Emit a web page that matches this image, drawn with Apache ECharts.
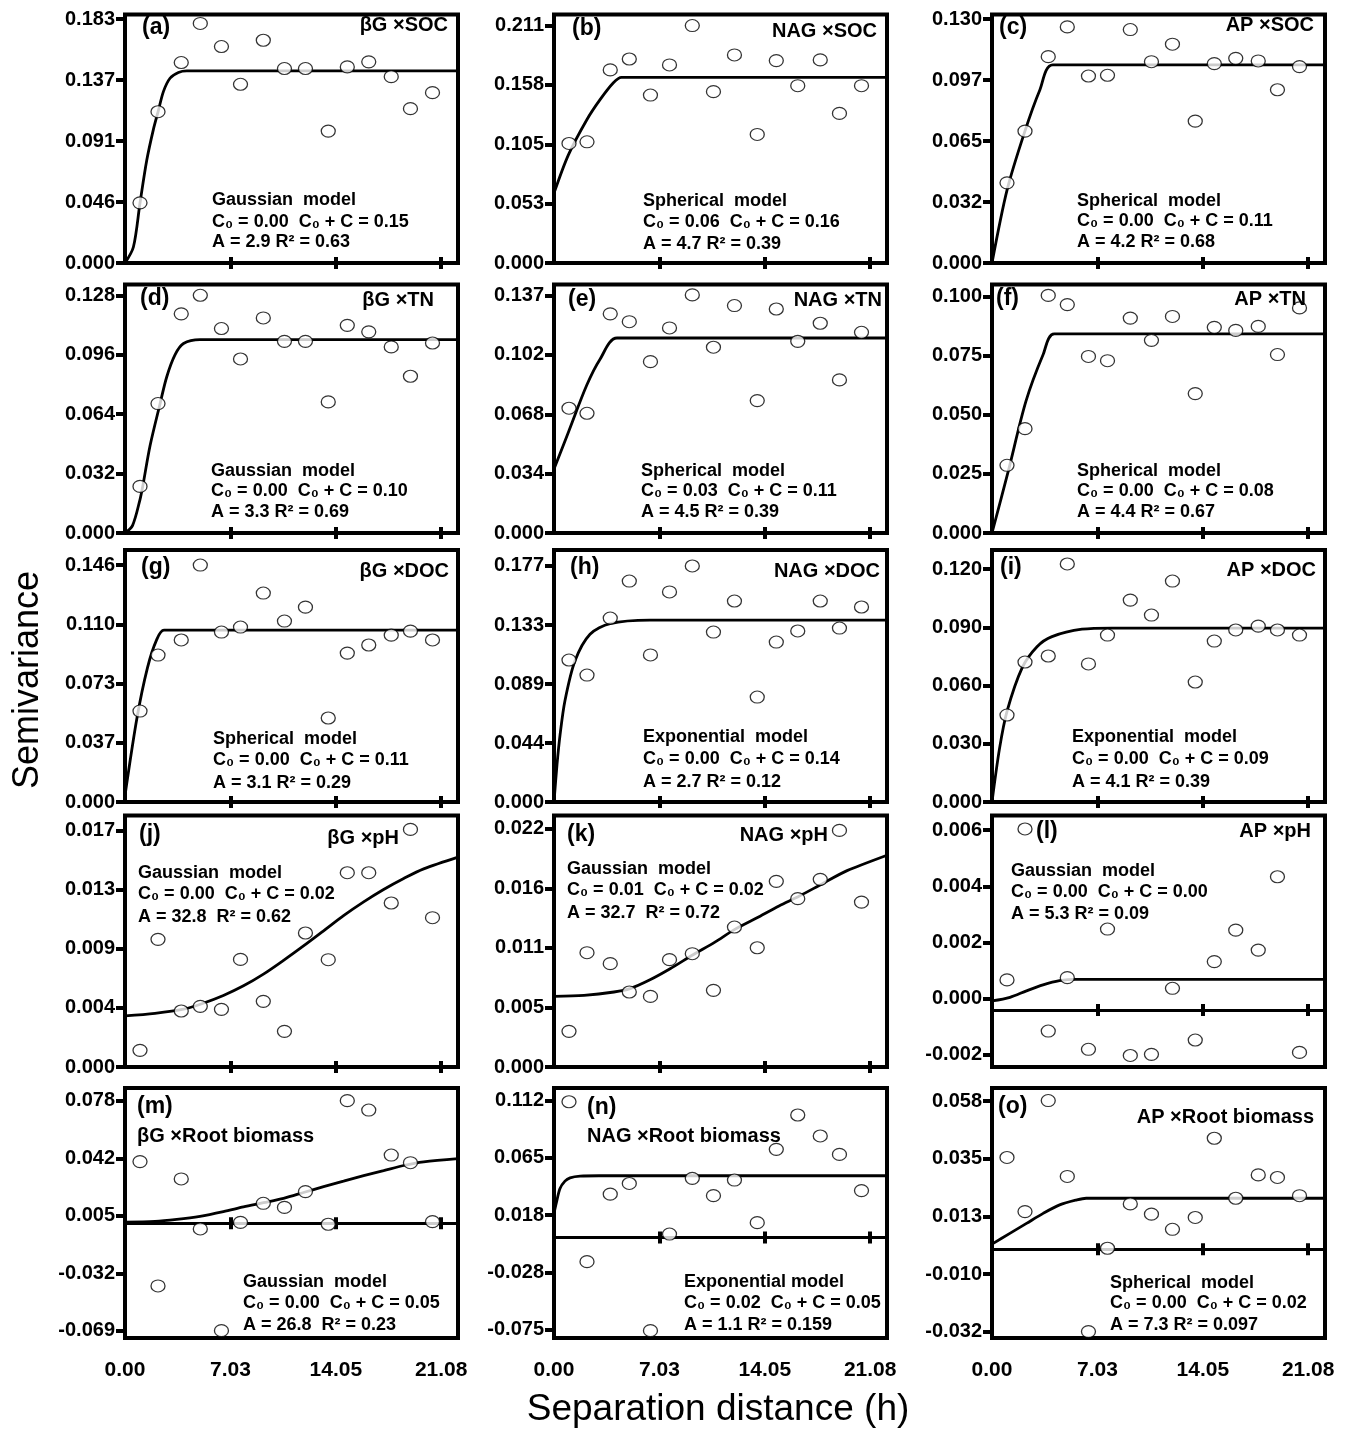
<!DOCTYPE html>
<html><head><meta charset="utf-8">
<script src="https://cdn.jsdelivr.net/npm/echarts@6/dist/echarts.min.js"></script>
<style>html,body{margin:0;padding:0;background:#fff}#c{width:1350px;height:1430px}</style>
</head><body><div id="c"></div>
<script>
// ---------------- DATA ----------------
const lags = [1.0, 2.2, 3.75, 5.02, 6.43, 7.7, 9.22, 10.63, 12.03, 13.55, 14.82, 16.25, 17.75, 19.03, 20.5];
const xTickValues = [0, 7.0267, 14.0533, 21.08];
const xTickLabels = ['0.00', '7.03', '14.05', '21.08'];

const semA = [0.0451, 0.1134, 0.1503, 0.1796, 0.1623, 0.1340, 0.1670, 0.1458, 0.1458, 0.0989, 0.1470, 0.1508, 0.1397, 0.1157, 0.1277];
const semB = [0.1061, 0.1076, 0.1714, 0.1811, 0.1491, 0.1758, 0.2108, 0.1521, 0.1847, 0.1141, 0.1797, 0.1574, 0.1803, 0.1328, 0.1574];
const semC = [0.0426, 0.0701, 0.1097, 0.1255, 0.0994, 0.0998, 0.1241, 0.1070, 0.1163, 0.0754, 0.1060, 0.1088, 0.1074, 0.0921, 0.1044];
const semD = [0.0251, 0.0697, 0.1180, 0.1280, 0.1101, 0.0937, 0.1158, 0.1032, 0.1032, 0.0706, 0.1118, 0.1083, 0.1002, 0.0844, 0.1023];
const semE = [0.0718, 0.0689, 0.1261, 0.1216, 0.0986, 0.1180, 0.1370, 0.1069, 0.1309, 0.0762, 0.1289, 0.1103, 0.1207, 0.0881, 0.1155];
const semF = [0.0286, 0.0441, 0.1004, 0.0965, 0.0746, 0.0728, 0.0908, 0.0814, 0.0915, 0.0589, 0.0869, 0.0856, 0.0873, 0.0754, 0.0951];
const semG = [0.0562, 0.0908, 0.1001, 0.1464, 0.1050, 0.1081, 0.1291, 0.1118, 0.1204, 0.0519, 0.0920, 0.0970, 0.1031, 0.1056, 0.1001];
const semH = [0.1066, 0.0953, 0.1381, 0.1659, 0.1104, 0.1577, 0.1772, 0.1276, 0.1509, 0.0788, 0.1201, 0.1284, 0.1509, 0.1306, 0.1464];
const semI = [0.0448, 0.0721, 0.0752, 0.1226, 0.0711, 0.0860, 0.1040, 0.0963, 0.1138, 0.0618, 0.0829, 0.0886, 0.0906, 0.0886, 0.0860];
const semJ = [0.00121, 0.00928, 0.00407, 0.00441, 0.00419, 0.00782, 0.00477, 0.00259, 0.00974, 0.00780, 0.01412, 0.01412, 0.01192, 0.01727, 0.01085];
const semK = [0.00323, 0.01036, 0.00937, 0.00680, 0.00640, 0.00973, 0.01027, 0.00695, 0.01269, 0.01081, 0.01683, 0.01526, 0.01701, 0.02145, 0.01495];
const semL = [0.00107, 0.00644, -0.00075, 0.00115, -0.00140, 0.00288, -0.00162, -0.00158, 0.00077, -0.00107, 0.00172, 0.00284, 0.00213, 0.00474, -0.00151];
const semM = [0.0395, -0.0401, 0.0284, -0.0036, -0.0687, 0.0006, 0.0128, 0.0102, 0.0203, -0.0006, 0.0785, 0.0725, 0.0437, 0.0388, 0.0011];
const semN = [0.1107, -0.0196, 0.0354, 0.0441, -0.0758, 0.0029, 0.0483, 0.0342, 0.0469, 0.0122, 0.0719, 0.0999, 0.0828, 0.0678, 0.0383];
const semO = [0.0358, 0.0147, 0.0580, 0.0284, -0.0321, 0.0004, 0.0177, 0.0137, 0.0078, 0.0124, 0.0433, 0.0199, 0.0290, 0.0280, 0.0209];

// fitted model curves: [distance, semivariance]
const curveA = [[0,0],[0.56,0.012],[1.0,0.045],[1.45,0.077],[1.89,0.100],[2.22,0.114],[2.56,0.1285],[3.0,0.1385],[3.56,0.1428],[4.12,0.144],[22.2,0.144]];
const curveB = [[0,0.062],[0.96,0.096],[2.18,0.127],[3.07,0.145],[3.96,0.160],[4.5,0.1648],[22.2,0.1648]];
const curveC = [[0,0],[1.01,0.039],[2.19,0.070],[3.19,0.092],[4.05,0.1053],[22.2,0.1053]];
const curveD = [[0,0],[0.5,0.004],[1.0,0.018],[1.18,0.025],[1.67,0.047],[2.34,0.0697],[2.78,0.084],[3.34,0.096],[3.9,0.102],[5.0,0.1041],[22.2,0.1041]];
const curveE = [[0,0.0368],[0.96,0.058],[2.18,0.085],[3.07,0.100],[4.2,0.1122],[22.2,0.1122]];
const curveF = [[0,0],[1.08,0.026],[2.26,0.0556],[3.41,0.0754],[4.15,0.0841],[22.2,0.0841]];
const curveG = [[0,0.004],[0.8,0.052],[1.5,0.083],[2.1,0.100],[2.6,0.1062],[22.2,0.1062]];
const curveH = [[0,0],[0.2,0.028],[0.4,0.050],[0.73,0.076],[1.4,0.106],[2.4,0.126],[3.74,0.134],[6.4,0.1366],[22.2,0.1366]];
const curveI = [[0,0],[0.5,0.0275],[1.0,0.0467],[2.0,0.069],[3.0,0.080],[4.0,0.0852],[6.0,0.089],[8.0,0.0896],[22.2,0.0896]];
const curveJ = [[0,0.00371],[2,0.0039],[3.9,0.0042],[5.12,0.0046],[6.56,0.0052],[7.9,0.0059],[9.23,0.00675],[10.57,0.00775],[11.9,0.0088],[13.24,0.0099],[14.57,0.0110],[15.91,0.0120],[17.24,0.0129],[18.58,0.0137],[19.91,0.0144],[22.2,0.01526]];
const curveK = [[0,0.0064],[2,0.0065],[4,0.0068],[5.07,0.0071],[6.4,0.0079],[7.74,0.0089],[9.3,0.0102],[10.7,0.0113],[12.08,0.0125],[13.64,0.0136],[15,0.0146],[16.36,0.0155],[17.87,0.0166],[19.54,0.0178],[22.2,0.0192]];
const curveL = [[0,0.00032],[1.2,0.00045],[2.3,0.00068],[3.4,0.00089],[4.5,0.00104],[5.6,0.00109],[22.2,0.00109]];
const curveM = [[0,0.0008],[2,0.0012],[3.45,0.0025],[5.0,0.0045],[6.56,0.0075],[7.9,0.0105],[9.23,0.0132],[10.57,0.016],[11.9,0.0197],[13.24,0.0235],[14.57,0.027],[15.91,0.0305],[17.24,0.0337],[18.58,0.0370],[19.91,0.0393],[22.2,0.0414]];
const curveN = [[0,0.0198],[0.15,0.028],[0.4,0.040],[0.73,0.046],[1.07,0.0487],[1.74,0.0501],[3,0.0504],[22.2,0.0504]];
const curveO = [[0,0.002],[1.19,0.0062],[2.3,0.0101],[3.41,0.014],[4.51,0.0173],[5.62,0.0192],[6.28,0.0199],[22.2,0.0199]];

// y-axis tick positions and their printed labels
const yTicksA = [0, 0.0457, 0.0914, 0.1371, 0.1828];   const yLabelsA = ['0.000','0.046','0.091','0.137','0.183'];
const yTicksB = [0, 0.0527, 0.1054, 0.1581, 0.2108];   const yLabelsB = ['0.000','0.053','0.105','0.158','0.211'];
const yTicksC = [0, 0.0324, 0.0648, 0.0972, 0.1296];   const yLabelsC = ['0.000','0.032','0.065','0.097','0.130'];
const yTicksD = [0, 0.032, 0.064, 0.096, 0.128];       const yLabelsD = ['0.000','0.032','0.064','0.096','0.128'];
const yTicksE = [0, 0.03415, 0.0683, 0.10245, 0.1366]; const yLabelsE = ['0.000','0.034','0.068','0.102','0.137'];
const yTicksF = [0, 0.025, 0.05, 0.075, 0.1];          const yLabelsF = ['0.000','0.025','0.050','0.075','0.100'];
const yTicksG = [0, 0.0366, 0.0732, 0.1098, 0.1464];   const yLabelsG = ['0.000','0.037','0.073','0.110','0.146'];
const yTicksH = [0, 0.0443, 0.0886, 0.1329, 0.1772];   const yLabelsH = ['0.000','0.044','0.089','0.133','0.177'];
const yTicksI = [0, 0.03, 0.06, 0.09, 0.12];           const yLabelsI = ['0.000','0.030','0.060','0.090','0.120'];
const yTicksJ = [0, 0.0043, 0.0086, 0.0129, 0.0172];   const yLabelsJ = ['0.000','0.004','0.009','0.013','0.017'];
const yTicksK = [0, 0.0054, 0.0108, 0.0162, 0.0216];   const yLabelsK = ['0.000','0.005','0.011','0.016','0.022'];
const yTicksL = [-0.0016, 0.0004, 0.0024, 0.0044, 0.0064]; const yLabelsL = ['-0.002','0.000','0.002','0.004','0.006'];
const yTicksM = [-0.0688, -0.032, 0.0048, 0.0416, 0.0784]; const yLabelsM = ['-0.069','-0.032','0.005','0.042','0.078'];
const yTicksN = [-0.075, -0.0283, 0.0184, 0.0651, 0.1118]; const yLabelsN = ['-0.075','-0.028','0.018','0.065','0.112'];
const yTicksO = [-0.0322, -0.0097, 0.0128, 0.0353, 0.0578]; const yLabelsO = ['-0.032','-0.010','0.013','0.035','0.058'];

const letters = ['(a)','(b)','(c)','(d)','(e)','(f)','(g)','(h)','(i)','(j)','(k)','(l)','(m)','(n)','(o)'];
const titles = ['βG ×SOC','NAG ×SOC','AP ×SOC','βG ×TN','NAG ×TN','AP ×TN','βG ×DOC','NAG ×DOC','AP ×DOC','βG ×pH','NAG ×pH','AP ×pH','βG ×Root biomass','NAG ×Root biomass','AP ×Root biomass'];
const models = [
  ['Gaussian  model','C₀ = 0.00  C₀ + C = 0.15','A = 2.9 R² = 0.63'],
  ['Spherical  model','C₀ = 0.06  C₀ + C = 0.16','A = 4.7 R² = 0.39'],
  ['Spherical  model','C₀ = 0.00  C₀ + C = 0.11','A = 4.2 R² = 0.68'],
  ['Gaussian  model','C₀ = 0.00  C₀ + C = 0.10','A = 3.3 R² = 0.69'],
  ['Spherical  model','C₀ = 0.03  C₀ + C = 0.11','A = 4.5 R² = 0.39'],
  ['Spherical  model','C₀ = 0.00  C₀ + C = 0.08','A = 4.4 R² = 0.67'],
  ['Spherical  model','C₀ = 0.00  C₀ + C = 0.11','A = 3.1 R² = 0.29'],
  ['Exponential  model','C₀ = 0.00  C₀ + C = 0.14','A = 2.7 R² = 0.12'],
  ['Exponential  model','C₀ = 0.00  C₀ + C = 0.09','A = 4.1 R² = 0.39'],
  ['Gaussian  model','C₀ = 0.00  C₀ + C = 0.02','A = 32.8  R² = 0.62'],
  ['Gaussian  model','C₀ = 0.01  C₀ + C = 0.02','A = 32.7  R² = 0.72'],
  ['Gaussian  model','C₀ = 0.00  C₀ + C = 0.00','A = 5.3 R² = 0.09'],
  ['Gaussian  model','C₀ = 0.00  C₀ + C = 0.05','A = 26.8  R² = 0.23'],
  ['Exponential model','C₀ = 0.02  C₀ + C = 0.05','A = 1.1 R² = 0.159'],
  ['Spherical  model','C₀ = 0.00  C₀ + C = 0.02','A = 7.3 R² = 0.097']
];

const sems = [semA, semB, semC, semD, semE, semF, semG, semH, semI, semJ, semK, semL, semM, semN, semO];
const curves = [curveA, curveB, curveC, curveD, curveE, curveF, curveG, curveH, curveI, curveJ, curveK, curveL, curveM, curveN, curveO];
const yTicks = [yTicksA, yTicksB, yTicksC, yTicksD, yTicksE, yTicksF, yTicksG, yTicksH, yTicksI, yTicksJ, yTicksK, yTicksL, yTicksM, yTicksN, yTicksO];
const yLabels = [yLabelsA, yLabelsB, yLabelsC, yLabelsD, yLabelsE, yLabelsF, yLabelsG, yLabelsH, yLabelsI, yLabelsJ, yLabelsK, yLabelsL, yLabelsM, yLabelsN, yLabelsO];

// ---------------- LAYOUT ----------------
const XMAX = 22.2;
const colLeft = [125, 554, 992];
const gridW = 333;
const rowTop = [14.5, 284.5, 550, 815.5, 1088];
const rowH = [248.5, 248.5, 252, 251.5, 250];
const yRange = [
  [0, 0.1863], [0, 0.2206], [0, 0.1321],
  [0, 0.1338], [0, 0.1430], [0, 0.1050],
  [0, 0.1557], [0, 0.1892], [0, 0.1298],
  [0, 0.01828], [0, 0.0228], [-0.00203, 0.00692],
  [-0.0734, 0.0866], [-0.0818, 0.1219], [-0.0346, 0.0629]
];
// text placement (offsets relative to the panel box)
const letterPos = [[17,13],[18,14.5],[7,13],[15,14.5],[14,15.5],[4,14.5],[16,18],[16,18],[8,18],[14,19.5],[13,19.5],[44,16],[12,19],[33,20],[6,19]];
// title: [anchor, offset, dy]  anchor 'r' = from right edge, 'l' = from left edge
const titlePos = [['r',10,10.5],['r',10,17],['r',11,10.5],['r',24,15.5],['r',5,15.5],['r',19,14.5],['r',9,21],['r',7,21],['r',9,20],['r',59,22.5],['r',59,19.5],['r',14,16],['l',12,48],['l',33,48],['r',11,29]];
const modelPos = [
  [87,[185.5,207.5,228]],[89,[187,208,230]],[85,[187,207,228]],
  [86,[187,207,228]],[87,[187,207,228]],[85,[187,207,228]],
  [88,[189,210,233]],[89,[187,209,232]],[80,[187,209,232]],
  [13,[57.5,78.5,101.5]],[13,[53.5,74.5,97.5]],[19,[55.5,77,99]],
  [118,[194,215,237]],[130,[194,215,237]],[118,[195,215,237]]
];

const FONT = '"Liberation Sans", Arial, sans-serif';
const grids = [], xAxes = [], yAxes = [], series = [], graphics = [];

function nearestLabel(ticks, labels, v) {
  let best = 0, bd = Infinity;
  ticks.forEach((t, k) => { const d = Math.abs(t - v); if (d < bd) { bd = d; best = k; } });
  return labels[best];
}

for (let i = 0; i < 15; i++) {
  const r = Math.floor(i / 3), c = i % 3;
  const L = colLeft[c], T = rowTop[r], H = rowH[r];
  grids.push({ left: L, top: T, width: gridW, height: H, show: true, borderColor: '#000', borderWidth: 4, backgroundColor: 'transparent', containLabel: false });
  const tickStyle = { color: '#000', width: 4 };
  xAxes.push({ gridIndex: i, type: 'value', min: 0, max: XMAX, position: 'bottom',
    axisLine: { show: true, onZero: true, onZeroAxisIndex: i, lineStyle: { color: '#000', width: 3 } },
    axisTick: { show: true, customValues: xTickValues.slice(1), length: 6, lineStyle: tickStyle },
    axisLabel: { show: false }, splitLine: { show: false } });
  xAxes.push({ gridIndex: i, type: 'value', min: 0, max: XMAX, position: 'top',
    axisLine: { show: false, onZero: true, onZeroAxisIndex: i },
    axisTick: { show: true, customValues: xTickValues.slice(1), length: 6, lineStyle: tickStyle },
    axisLabel: { show: false }, splitLine: { show: false } });
  const tk = yTicks[i], lb = yLabels[i];
  yAxes.push({ gridIndex: i, type: 'value', min: yRange[i][0], max: yRange[i][1],
    axisLine: { show: false, onZero: false },
    axisTick: { show: true, customValues: tk, length: 9, lineStyle: tickStyle },
    axisLabel: { show: true, customValues: tk, formatter: (v) => nearestLabel(tk, lb, v),
      fontFamily: FONT, fontWeight: 'bold', fontSize: 20, color: '#000', margin: 10 },
    splitLine: { show: false } });
  series.push({ type: 'line', xAxisIndex: 2 * i, yAxisIndex: i, data: curves[i], showSymbol: false, smooth: 0.3,
    lineStyle: { color: '#000', width: 2.8 }, z: 3, silent: true });
  series.push({ type: 'scatter', xAxisIndex: 2 * i, yAxisIndex: i, data: lags.map((x, k) => [x, sems[i][k]]),
    symbol: 'circle', symbolSize: [14, 12], itemStyle: { color: '#fff', borderColor: '#000', borderWidth: 1.2 }, z: 4, silent: true });

  // texts
  graphics.push({ type: 'text', x: L + letterPos[i][0], y: T + letterPos[i][1], z: 10,
    style: { text: letters[i], font: 'bold 23px ' + FONT, fill: '#000', textAlign: 'left', textVerticalAlign: 'middle' } });
  const tp = titlePos[i];
  graphics.push({ type: 'text', x: tp[0] === 'r' ? L + gridW - tp[1] : L + tp[1], y: T + tp[2], z: 10,
    style: { text: titles[i], font: 'bold 20px ' + FONT, fill: '#000', textAlign: tp[0] === 'r' ? 'right' : 'left', textVerticalAlign: 'middle' } });
  const mp = modelPos[i];
  models[i].forEach((line, k) => {
    graphics.push({ type: 'text', x: L + mp[0], y: T + mp[1][k], z: 10,
      style: { text: line, font: 'bold 18px ' + FONT, fill: '#000', textAlign: 'left', textVerticalAlign: 'middle' } });
  });
}

// overlay grids carrying the distance labels under the bottom row
for (let c = 0; c < 3; c++) {
  const gi = grids.length;
  grids.push({ left: colLeft[c], top: rowTop[4], width: gridW, height: rowH[4], show: false });
  xAxes.push({ gridIndex: gi, type: 'value', min: 0, max: XMAX, position: 'bottom',
    axisLine: { show: false, onZero: false }, axisTick: { show: false },
    axisLabel: { show: true, customValues: xTickValues, formatter: (v) => nearestLabel(xTickValues, xTickLabels, v),
      fontFamily: FONT, fontWeight: 'bold', fontSize: 21, color: '#000', margin: 22 },
    splitLine: { show: false } });
  yAxes.push({ gridIndex: gi, type: 'value', min: 0, max: 1, show: false });
}

graphics.push({ type: 'text', x: 28, y: 680, rotation: Math.PI / 2, z: 10,
  style: { text: 'Semivariance', font: '36px ' + FONT, fill: '#000', textAlign: 'center', textVerticalAlign: 'middle' } });
graphics.push({ type: 'text', x: 718, y: 1410, z: 10,
  style: { text: 'Separation distance (h)', font: '37px ' + FONT, fill: '#000', textAlign: 'center', textVerticalAlign: 'middle' } });

const chart = echarts.init(document.getElementById('c'), null, { renderer: 'canvas' });
chart.setOption({
  animation: false,
  backgroundColor: '#fff',
  grid: grids, xAxis: xAxes, yAxis: yAxes, series: series, graphic: { elements: graphics }
});
</script>
</body></html>
